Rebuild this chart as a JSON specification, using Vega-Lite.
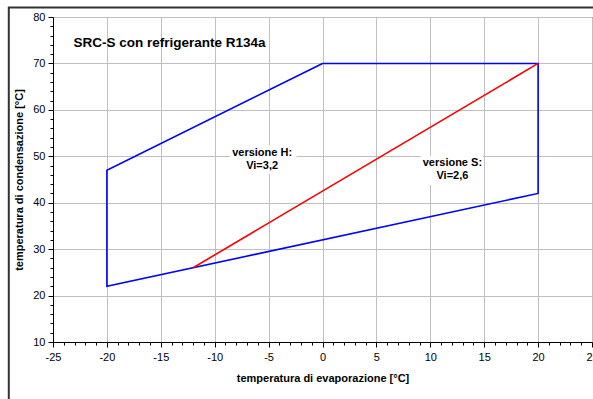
{
  "$schema": "https://vega.github.io/schema/vega-lite/v6.json",
  "width": 539,
  "height": 325,
  "autosize": {"type": "none"},
  "padding": {"left": 53, "top": 17, "right": 1, "bottom": 57},
  "background": "white",
  "config": {
    "font": "Liberation Sans",
    "view": {"stroke": "black", "strokeWidth": 1},
    "axis": {
      "domainColor": "black",
      "tickColor": "black",
      "labelColor": "black",
      "labelFont": "Liberation Sans",
      "labelFontSize": 11,
      "labelOverlap": false,
      "labelFlush": false,
      "labelBound": false,
      "titleFont": "Liberation Sans",
      "titleFontSize": 11,
      "titleFontWeight": "bold",
      "titleColor": "black",
      "gridColor": "#c0c0c0",
      "gridWidth": 1
    }
  },
  "datasets": {
    "envelope": [
      {"evap": 0, "cond": 70, "ord": 1},
      {"evap": 20, "cond": 70, "ord": 2},
      {"evap": 20, "cond": 42, "ord": 3},
      {"evap": -20, "cond": 22, "ord": 4},
      {"evap": -20, "cond": 47, "ord": 5},
      {"evap": 0, "cond": 70, "ord": 6}
    ],
    "split": [
      {"evap": -12, "cond": 26, "ord": 1},
      {"evap": 20, "cond": 70, "ord": 2}
    ],
    "labelbg": [
      {"x1": -8.6, "x2": -2.4, "y1": 52.4, "y2": 46.2},
      {"x1": 9.1, "x2": 14.9, "y1": 50.1, "y2": 43.8}
    ],
    "notes": [
      {"evap": -5.6, "cond": 50.7, "txt": "versione H:"},
      {"evap": -5.6, "cond": 48.0, "txt": "Vi=3,2"},
      {"evap": 12.05, "cond": 48.5, "txt": "versione S:"},
      {"evap": 12.05, "cond": 45.7, "txt": "Vi=2,6"}
    ],
    "heading": [
      {"evap": -23.1, "cond": 74.4, "txt": "SRC-S con refrigerante R134a"}
    ],
    "frame": [
      {"x1": -29.1, "x2": 32, "y1": 82.05, "y2": -10}
    ]
  },
  "layer": [
    {
      "data": {"name": "labelbg"},
      "mark": {"type": "rect", "fill": "white", "stroke": null},
      "encoding": {
        "x": {
          "field": "x1", "type": "quantitative",
          "scale": {"domain": [-25, 25], "nice": false, "zero": false},
          "axis": {
            "values": [-25,-24,-23,-22,-21,-20,-19,-18,-17,-16,-15,-14,-13,-12,-11,-10,-9,-8,-7,-6,-5,-4,-3,-2,-1,0,1,2,3,4,5,6,7,8,9,10,11,12,13,14,15,16,17,18,19,20,21,22,23,24,25],
            "tickCount": 500,
            "labelExpr": "datum.value % 5 === 0 ? '' + datum.value : ''",
            "labelPadding": 4,
            "gridOpacity": {"condition": {"test": "datum.value % 5 === 0", "value": 1}, "value": 0},
            "tickSize": {"condition": {"test": "datum.value % 5 === 0", "value": 5}, "value": 3},
            "title": "temperatura di evaporazione [°C]",
            "titlePadding": 10
          }
        },
        "x2": {"field": "x2"},
        "y": {
          "field": "y1", "type": "quantitative",
          "scale": {"domain": [10, 80], "nice": false, "zero": false},
          "axis": {
            "values": [10,12,14,16,18,20,22,24,26,28,30,32,34,36,38,40,42,44,46,48,50,52,54,56,58,60,62,64,66,68,70,72,74,76,78,80],
            "tickCount": 500,
            "labelExpr": "datum.value % 10 === 0 ? '' + datum.value : ''",
            "labelPadding": 3,
            "gridOpacity": {"condition": {"test": "datum.value % 10 === 0", "value": 1}, "value": 0},
            "tickSize": {"condition": {"test": "datum.value % 10 === 0", "value": 5}, "value": 3},
            "title": "temperatura di condensazione [°C]",
            "titlePadding": 8
          }
        },
        "y2": {"field": "y2"}
      }
    },
    {
      "data": {"name": "envelope"},
      "mark": {"type": "line", "color": "#0000ff", "strokeWidth": 1.6},
      "encoding": {
        "x": {"field": "evap", "type": "quantitative"},
        "y": {"field": "cond", "type": "quantitative"},
        "order": {"field": "ord"}
      }
    },
    {
      "data": {"name": "split"},
      "mark": {"type": "line", "color": "#ff0000", "strokeWidth": 1.6},
      "encoding": {
        "x": {"field": "evap", "type": "quantitative"},
        "y": {"field": "cond", "type": "quantitative"},
        "order": {"field": "ord"}
      }
    },
    {
      "data": {"name": "notes"},
      "mark": {"type": "text", "fontSize": 11, "fontWeight": "bold", "align": "center", "baseline": "middle", "color": "black"},
      "encoding": {
        "x": {"field": "evap", "type": "quantitative"},
        "y": {"field": "cond", "type": "quantitative"},
        "text": {"field": "txt"}
      }
    },
    {
      "data": {"name": "heading"},
      "mark": {"type": "text", "fontSize": 13.5, "fontWeight": "bold", "align": "left", "baseline": "middle", "color": "black"},
      "encoding": {
        "x": {"field": "evap", "type": "quantitative"},
        "y": {"field": "cond", "type": "quantitative"},
        "text": {"field": "txt"}
      }
    },
    {
      "data": {"name": "frame"},
      "mark": {"type": "rect", "fill": null, "stroke": "#333333", "strokeWidth": 2, "clip": false},
      "encoding": {
        "x": {"field": "x1", "type": "quantitative"},
        "x2": {"field": "x2"},
        "y": {"field": "y1", "type": "quantitative"},
        "y2": {"field": "y2"}
      }
    }
  ]
}
